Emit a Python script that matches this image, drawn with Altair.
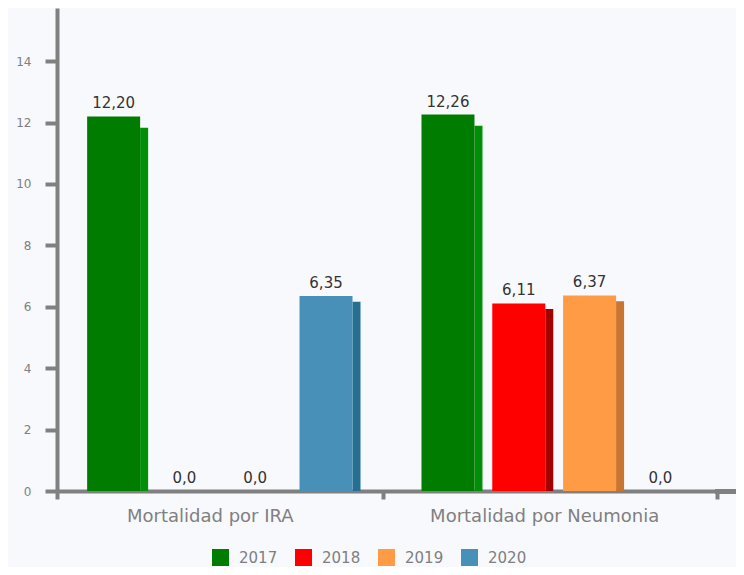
import altair as alt
import pandas as pd

categories = ["Mortalidad por IRA", "Mortalidad por Neumonia"]
years = ["2017", "2018", "2019", "2020"]
ira_values = [12.20, 0.0, 0.0, 6.35]
neumonia_values = [12.26, 6.11, 6.37, 0.0]
ira_labels = ["12,20", "0,0", "0,0", "6,35"]
neumonia_labels = ["12,26", "6,11", "6,37", "0,0"]
y_ticks = [0, 2, 4, 6, 8, 10, 12, 14]

front_colors = ["#007c00", "#ff0000", "#ff9b45", "#4890b8"]
side_colors = ["#008f06", "#a50000", "#c97430", "#266f92"]

rows = []
for cat, vals, labs in [(categories[0], ira_values, ira_labels),
                        (categories[1], neumonia_values, neumonia_labels)]:
    for yr, v, lab in zip(years, vals, labs):
        rows.append({"categoria": cat, "anio": yr, "valor": v, "etiqueta": lab})
df = pd.DataFrame(rows)
side_domain = ["lado " + y for y in years]

FONT = "DejaVu Sans"
GRAY = "#808080"
W, H = 660, 483
PIN = 0.026
BW = W / (2 - PIN) * (1 - PIN)

x_enc = alt.X("categoria:N", sort=categories, title=None,
              scale=alt.Scale(paddingInner=PIN, paddingOuter=0),
              axis=alt.Axis(labelAngle=0, labelFontSize=18, labelColor=GRAY,
                            labelFont=FONT, labelPadding=8, labelLimit=0,
                            labelOffset=-10,
                            tickBand="extent", tickSize=8, tickWidth=4,
                            tickColor=GRAY, domainColor=GRAY, domainWidth=4,
                            grid=False))
xo_enc = alt.XOffset("anio:N", sort=years,
                     scale=alt.Scale(type="band", paddingInner=0, paddingOuter=0.3))
xo_side = alt.XOffset("anio:N", sort=years,
                      scale=alt.Scale(type="band", paddingInner=0, paddingOuter=0.3,
                                      range=[30.5, BW + 30.5]))
y_scale = alt.Scale(domain=[0, 15.73], nice=False)

base = alt.Chart(df)

side = base.transform_calculate(
    prof="datum.valor * 0.97", lado="'lado ' + datum.anio"
).mark_bar(size=8).encode(
    x=x_enc, xOffset=xo_side,
    y=alt.Y("prof:Q", scale=y_scale),
    fill=alt.Fill("lado:N", scale=alt.Scale(domain=side_domain, range=side_colors),
                  legend=None),
)

front = base.mark_bar(size=53).encode(
    x=x_enc, xOffset=xo_enc,
    y=alt.Y("valor:Q", scale=y_scale, title=None,
            axis=alt.Axis(values=y_ticks, grid=False, labelFontSize=12,
                          labelColor=GRAY, labelFont=FONT, labelPadding=14,
                          tickSize=12, tickWidth=4, tickColor=GRAY,
                          domainColor=GRAY, domainWidth=4)),
    color=alt.Color("anio:N", sort=years,
                    scale=alt.Scale(domain=years, range=front_colors),
                    legend=alt.Legend(title=None, orient="none", legendX=155,
                                      legendY=541, direction="horizontal",
                                      symbolType="square", symbolSize=289,
                                      symbolStrokeWidth=0, labelFontSize=15,
                                      labelColor=GRAY, labelFont=FONT,
                                      labelOffset=10, columnPadding=17)),
)

labels = base.mark_text(baseline="alphabetic", dy=-8, fontSize=15,
                        font=FONT, color="#333333").encode(
    x=x_enc, xOffset=xo_enc,
    y=alt.Y("valor:Q", scale=y_scale),
    text="etiqueta:N",
)

baseline_ext = base.mark_rule(color=GRAY, strokeWidth=4).encode(
    x=alt.value(W - 2), x2=alt.value(W + 19), y=alt.value(H + 0.5)
)

chart = alt.layer(side, front, labels, baseline_ext).resolve_scale(
    xOffset="independent"
).properties(
    width=W, height=H,
    autosize=alt.AutoSizeParams(type="none"),
    padding={"left": 49, "top": 0, "right": 19, "bottom": 76},
    background="#f8f9fc",
).configure_view(stroke=None)

chart.save("out.html", embed_options={"renderer": "svg", "actions": False})
